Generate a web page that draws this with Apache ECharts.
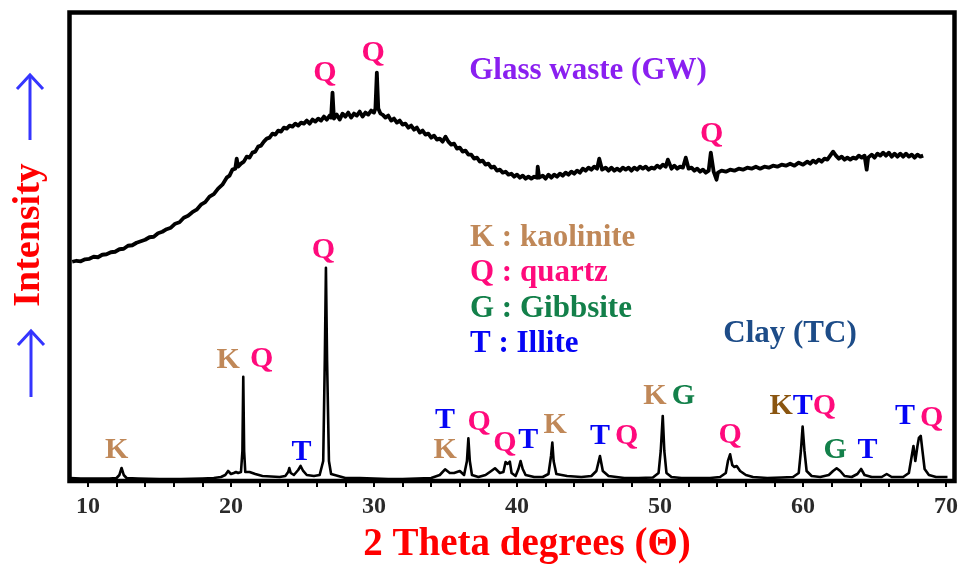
<!DOCTYPE html>
<html>
<head>
<meta charset="utf-8">
<script src="https://cdn.jsdelivr.net/npm/echarts@6/dist/echarts.min.js"></script>
<style>
html,body{margin:0;padding:0;background:#fff;}
#chart{width:963px;height:566px;}
</style>
</head>
<body>
<div id="chart"></div>
<script>
// ---- data (2θ in degrees, intensity in arbitrary units) ----
const gwPattern = [[8.9,219],[9.2,220],[9.5,219.5],[9.8,221.5],[10.1,222],[10.4,224],[10.7,223.5],[11.0,226],[11.3,226.5],[11.6,228.5],[11.9,229],[12.2,231.5],[12.5,232],[12.8,235],[13.1,235.5],[13.4,238],[13.7,239.5],[14.0,241],[14.3,243.5],[14.6,244],[14.9,247.5],[15.2,249],[15.5,251.5],[15.8,253],[16.1,257],[16.4,258.5],[16.7,263],[17.0,265],[17.3,268.5],[17.6,271],[17.9,276],[18.2,278.5],[18.5,284],[18.8,286.5],[19.1,292],[19.4,296],[19.7,303],[19.9,305],[20.1,311],[20.3,312],[20.4,322],[20.5,314],[20.7,317],[20.9,319],[21.1,324],[21.3,323],[21.5,328],[21.7,329],[21.9,334],[22.1,335],[22.3,339],[22.5,342],[22.7,343],[22.9,347],[23.1,346],[23.3,350],[23.5,349],[23.7,353],[23.9,352],[24.1,355],[24.3,354],[24.5,357],[24.7,355],[24.9,358],[25.1,357],[25.3,360],[25.5,357],[25.7,361],[25.9,359],[26.1,362],[26.3,360],[26.5,364],[26.7,361],[26.9,365],[27.0,363],[27.1,388],[27.15,388],[27.2,362],[27.4,366],[27.6,361],[27.8,367],[28.0,364],[28.2,368],[28.4,363],[28.6,367],[28.8,365],[29.0,369],[29.2,364],[29.4,368],[29.6,366],[29.8,370],[30.0,368],[30.1,372],[30.2,408],[30.25,408],[30.3,372],[30.45,367],[30.6,366],[30.8,363],[31.0,365],[31.2,360],[31.4,362],[31.6,358],[31.8,360],[32.0,356],[32.2,357],[32.4,353],[32.6,355],[32.8,351],[33.0,353],[33.2,348],[33.4,350],[33.6,346],[33.8,347],[34.0,343],[34.2,345],[34.4,341],[34.6,342],[34.8,339],[35.0,344],[35.1,345],[35.2,339],[35.4,336],[35.6,337],[35.8,332],[36.0,333],[36.2,329],[36.4,330],[36.6,326],[36.8,326],[37.0,322],[37.2,323],[37.4,319],[37.6,320],[37.8,316],[38.0,317],[38.2,313],[38.4,314],[38.6,310],[38.8,311],[39.0,308],[39.2,309],[39.4,306],[39.6,307],[39.8,304],[40.0,306],[40.2,303],[40.4,305],[40.6,302],[40.8,304],[41.0,302],[41.2,304],[41.4,303],[41.45,314],[41.5,314],[41.55,303],[41.8,305],[42.0,302],[42.2,306],[42.4,303],[42.6,306],[42.8,304],[43.0,307],[43.2,305],[43.4,308],[43.6,306],[43.8,309],[44.0,307],[44.2,310],[44.4,308],[44.6,312],[44.8,310],[45.0,313],[45.2,311],[45.4,314],[45.6,312],[45.75,322],[45.85,322],[45.95,311],[46.2,313],[46.4,310],[46.6,313],[46.8,310],[47.0,312],[47.2,310],[47.4,313],[47.6,311],[47.8,313],[48.0,310],[48.2,313],[48.4,311],[48.6,314],[48.8,312],[49.0,314],[49.2,311],[49.4,313],[49.6,312],[49.8,315],[50.0,313],[50.2,316],[50.4,314],[50.55,321],[50.65,320],[50.8,312],[51.0,315],[51.2,312],[51.4,314],[51.6,313],[51.8,323],[51.9,322],[52.0,312],[52.2,313],[52.4,310],[52.6,312],[52.8,309],[53.0,311],[53.2,308],[53.4,310],[53.55,328],[53.65,327],[53.75,309],[53.95,301],[54.05,308],[54.3,310],[54.6,309],[54.9,311],[55.2,310],[55.5,312],[55.8,311],[56.1,313],[56.4,312],[56.7,314],[57.0,312],[57.3,314],[57.6,313],[57.9,315],[58.2,314],[58.5,316],[58.8,315],[59.1,317],[59.4,315],[59.7,318],[60.0,316],[60.3,319],[60.5,317],[60.7,320],[60.9,318],[61.1,321],[61.3,319],[61.5,322],[61.7,321],[61.9,325],[62.1,329],[62.3,325],[62.5,322],[62.7,324],[62.9,321],[63.1,323],[63.3,321],[63.5,323],[63.7,322],[63.9,325],[64.1,323],[64.3,325],[64.45,311],[64.55,323],[64.8,326],[65.0,323],[65.2,327],[65.4,325],[65.6,328],[65.8,325],[66.0,328],[66.2,324],[66.4,327],[66.6,324],[66.8,327],[67.0,324],[67.2,327],[67.4,324],[67.6,326],[67.8,323],[68.0,326],[68.2,324],[68.4,325]];

const clayPattern = [[8.75,3],[9.5,2.5],[10.5,2.5],[11.5,2.5],[12.0,3],[12.2,6],[12.35,13],[12.5,6],[12.7,3],[13.5,2.5],[15,2],[16.5,2],[18,2.5],[18.8,3],[19.3,4],[19.6,6],[19.8,10],[20.0,7],[20.2,8],[20.35,9],[20.5,8],[20.7,9],[20.8,30],[20.86,104],[20.92,30],[21.0,9],[21.3,9],[21.7,7],[22.2,5],[22.8,4.5],[23.4,4],[23.8,5],[24.0,9],[24.08,13],[24.18,8],[24.4,6],[24.7,11],[24.87,15],[25.05,10],[25.3,6],[25.8,5],[26.2,6],[26.45,20],[26.56,120],[26.64,213],[26.72,120],[26.85,20],[27.0,7],[27.5,5],[28.0,3],[29,3],[30,2.5],[31,2],[32,2],[33,2.5],[34,3],[34.6,6],[34.97,11.7],[35.3,8],[35.6,8],[36.0,10],[36.3,6],[36.5,20],[36.6,42.7],[36.7,20],[36.85,6],[37.3,4],[37.8,6],[38.2,10],[38.46,12.7],[38.8,8],[39.05,9],[39.2,19],[39.35,17],[39.5,19.3],[39.62,8],[39.9,5],[40.1,12],[40.25,20],[40.4,12],[40.6,6],[41.2,4],[41.8,4],[42.2,7],[42.38,25],[42.47,38.3],[42.56,20],[42.75,7],[43.5,5],[44.5,4],[45.2,5],[45.55,10],[45.8,25],[46.0,10],[46.4,5],[47.5,3],[48.5,3],[49.5,3.5],[49.9,8],[50.05,30],[50.19,65],[50.3,30],[50.45,8],[50.8,4],[51.5,3],[52.5,3],[53.5,3],[54.2,4],[54.6,8],[54.75,20],[54.9,26.7],[55.05,16],[55.2,14],[55.36,15],[55.6,10],[56,6],[56.5,4],[57.5,3],[58.5,3.5],[59.3,4],[59.7,8],[59.85,30],[59.97,54.3],[60.1,30],[60.25,10],[60.6,5],[61.2,4],[61.8,6],[62.1,10],[62.35,12.7],[62.6,10],[62.9,5],[63.4,4],[63.8,7],[64.06,12],[64.3,6],[64.8,4],[65.5,4],[65.85,7],[66.2,4],[67.0,4],[67.4,8],[67.6,25],[67.72,35],[67.85,20],[68.0,35],[68.1,43],[68.23,45],[68.35,30],[68.5,12],[68.8,6],[69.3,4],[70.1,4]];

// peak annotations (position of the letter in data space)
const peakTheta   = [12.0, 19.81, 22.15, 24.94, 26.46, 34.97, 34.97, 37.36, 39.16, 40.79, 42.66, 45.8, 47.67, 49.65, 51.63, 54.9, 59.98, 62.24, 64.5, 67.13, 69.0, 26.57, 29.95, 53.61];
const peakLevel   = [31, 121, 122, 29, 231, 61, 31, 59, 37.7, 41, 56, 44.3, 44.3, 84.3, 84.3, 46, 74.3, 31, 31, 64.3, 62.7, 407.7, 427.7, 346];
const peakLetters = ['K','K','Q','T','Q','T','K','Q','Q','T','K','T','Q','K','G','Q','KTQ','G','T','T','Q','Q','Q','Q'];

const xTickValues  = [10,12,14,16,18,20,22,24,26,28,30,32,34,36,38,40,42,44,46,48,50,52,54,56,58,60,62,64,66,68,70];
const xLabelValues = [10,20,30,40,50,60,70];

const legendLines = ['K : kaolinite', 'Q : quartz', 'G : Gibbsite', 'T : Illite'];

// ---- styles ----
const SERIF = '"Liberation Serif","Times New Roman",serif';
const phaseColor = {K:'#c08858', Kd:'#8a5510', Q:'#ff0a7c', G:'#13804a', T:'#0505f5'};
const legendColors = [phaseColor.K, phaseColor.Q, phaseColor.G, phaseColor.T];

const rich = {};
Object.keys(phaseColor).forEach(k => {
  rich[k] = {color: phaseColor[k], fontFamily: SERIF, fontWeight: 'bold', fontSize: 30};
});

const peakItems = peakTheta.map((t, i) => ({value: [t, peakLevel[i]], letters: peakLetters[i]}));

const chart = echarts.init(document.getElementById('chart'), null, {renderer: 'canvas'});

const legendGraphics = legendLines.map((s, i) => ({
  type: 'text', x: 470, y: 238 + i * 35.3,
  style: {text: s, fill: legendColors[i], font: 'bold 31px ' + SERIF, textAlign: 'left', textVerticalAlign: 'middle'}
}));

chart.setOption({
  animation: false,
  backgroundColor: '#fff',
  grid: {left: 69.5, right: 8.5, top: 12.5, bottom: 85, show: true, borderColor: '#000', borderWidth: 4.5, backgroundColor: 'transparent'},
  xAxis: {
    type: 'value', min: 8.71, max: 70.59,
    axisLine: {show: true, onZero: false, lineStyle: {color: '#000', width: 3}},
    axisTick: {show: true, customValues: xTickValues, length: 6, lineStyle: {color: '#000', width: 2}},
    axisLabel: {show: true, customValues: xLabelValues, margin: 14, color: '#2a2a2a', fontFamily: SERIF, fontWeight: 'bold', fontSize: 24},
    splitLine: {show: false}
  },
  yAxis: {
    type: 'value', min: 0, max: 468,
    axisLine: {show: false}, axisTick: {show: false}, axisLabel: {show: false}, splitLine: {show: false}
  },
  series: [
    {type: 'line', name: 'Glass waste (GW)', data: gwPattern, showSymbol: false, symbol: 'none',
     lineStyle: {color: '#000', width: 3.8, join: 'round'}},
    {type: 'line', name: 'Clay (TC)', data: clayPattern, showSymbol: false, symbol: 'none',
     lineStyle: {color: '#000', width: 2.6, join: 'round'}},
    {type: 'scatter', data: peakItems, symbolSize: 0, silent: true,
     itemStyle: {opacity: 1},
     label: {show: true, position: 'inside',
       formatter: p => p.data.letters.split('').map(c => '{' + ((c === 'K' && p.data.letters.length > 1) ? 'Kd' : c) + '|' + c + '}').join(''),
       rich: rich}}
  ],
  graphic: [
    {type: 'text', x: 588, y: 71, style: {text: 'Glass waste (GW)', fill: '#8a1ff0', font: 'bold 31px ' + SERIF, textAlign: 'center', textVerticalAlign: 'middle'}},
    {type: 'text', x: 790, y: 334, style: {text: 'Clay (TC)', fill: '#1d4c88', font: 'bold 31px ' + SERIF, textAlign: 'center', textVerticalAlign: 'middle'}},
    ...legendGraphics,
    {type: 'text', x: 527, y: 545, style: {text: '2 Theta degrees (Θ)', fill: '#ff0000', font: 'bold 39px ' + SERIF, textAlign: 'center', textVerticalAlign: 'middle'}},
    {type: 'text', x: 29, y: 235, rotation: Math.PI / 2, style: {text: 'Intensity', fill: '#ff0000', font: 'bold 38px ' + SERIF, textAlign: 'center', textVerticalAlign: 'middle'}},
    {type: 'polyline', shape: {points: [[30, 140], [30, 75]]}, style: {stroke: '#3535ff', lineWidth: 3, fill: null}},
    {type: 'polyline', shape: {points: [[17, 89], [30, 75], [43, 89]]}, style: {stroke: '#3535ff', lineWidth: 3, fill: null}},
    {type: 'polyline', shape: {points: [[31, 397], [31, 331]]}, style: {stroke: '#3535ff', lineWidth: 3, fill: null}},
    {type: 'polyline', shape: {points: [[18, 345], [31, 331], [44, 345]]}, style: {stroke: '#3535ff', lineWidth: 3, fill: null}}
  ]
});
</script>
</body>
</html>
